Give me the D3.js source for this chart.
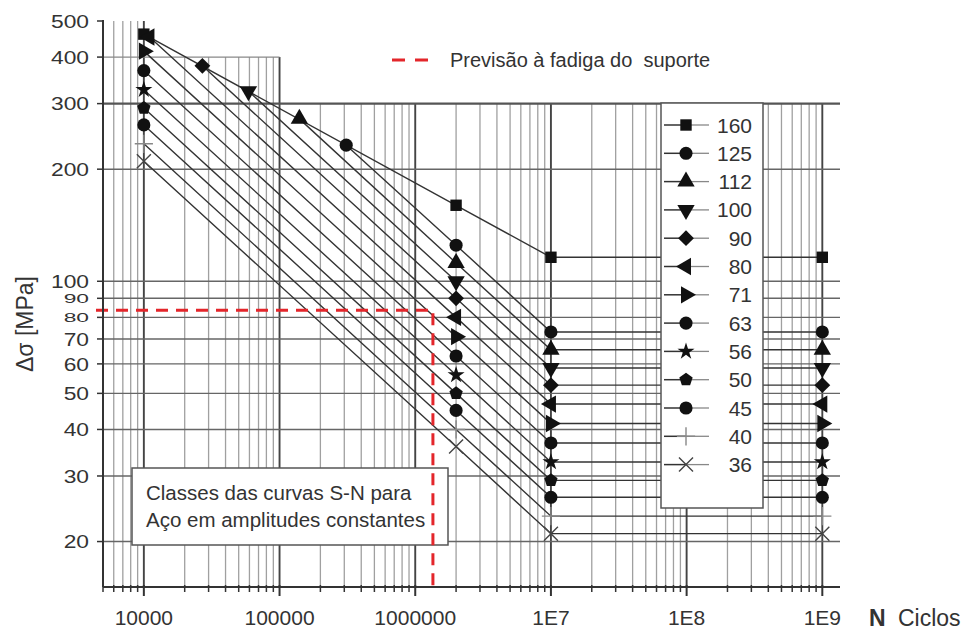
<!DOCTYPE html>
<html><head><meta charset="utf-8">
<script src="https://cdn.jsdelivr.net/npm/d3@7"></script>
<style>
body{margin:0;background:#fff}
svg{display:block}
text{font-family:"Liberation Sans",Arial,sans-serif;fill:#333}
</style>
</head><body>
<svg id="c" width="974" height="630"></svg>
<script>
// ---- data ----
const classLabels  = ["160","125","112","100","90","80","71","63","56","50","45","40","36"];
const classSymbols = ["square","circle","triUp","triDown","diamond","triLeft","triRight","circle","star","pentagon","circle","plus","times"];
const startCycles  = [1e4, 3.1e5, 1.4e5, 5.9e4, 2.7e4, 1.1e4, 1e4, 1e4, 1e4, 1e4, 1e4, 1e4, 1e4];
const startStress  = [461, 232, 273, 324, 379, 453, 415, 368, 327, 292, 263, 234, 210];
const stressAt2e6  = [160, 125, 112, 100, 90, 80, 71, 63, 56, 50, 45, 40, 36];
const stressAt1e7  = [116, 73.1, 65.5, 58.5, 52.6, 46.8, 41.5, 36.8, 32.7, 29.2, 26.3, 23.4, 21.0];
const kneeCycles   = [2e6, 1e7, 1e9];
const yTickValues  = [20, 30, 40, 50, 60, 70, 80, 90, 100, 200, 300, 400, 500];
const yGridValues  = [20, 30, 40, 50, 60, 70, 80, 90, 100, 200, 300];
const xLabelValues = [1e4, 1e5, 1e6, 1e7, 1e8, 1e9];
const xLabelTexts  = ["10000", "100000", "1000000", "1E7", "1E8", "1E9"];
const predCycles = 1.35e6, predStress = 83.6;
const predLabel = "Previsão à fadiga do  suporte";
const noteLines = ["Classes das curvas S-N para", "Aço em amplitudes constantes"];

// ---- scales ----
const svg = d3.select("#c");
const x = d3.scaleLog().domain([5000, 1.35e9]).range([103, 840]);
const y = d3.scaleLog().domain([15.1, 500]).range([587, 21]);
const X0 = x.range()[0], X1 = x.range()[1], Y0 = y.range()[0];

// ---- grid ----
const g = svg.append("g");
const xGrid = x.ticks();
const isDecade = v => Math.abs(Math.log10(v) - Math.round(Math.log10(v))) < 1e-9;
xGrid.forEach(v => {
  let top = y(300);
  if (v <= 1e4 + 1) top = y(500);
  else if (v <= 1e5 + 1) top = y(400);
  g.append("line").attr("x1", x(v)).attr("x2", x(v)).attr("y1", top).attr("y2", Y0)
    .attr("stroke", isDecade(v) ? "#444" : "#a0a0a0")
    .attr("stroke-width", isDecade(v) ? 1.9 : 1.3);
});
yGridValues.forEach(v => {
  g.append("line").attr("x1", X0).attr("x2", X1).attr("y1", y(v)).attr("y2", y(v))
    .attr("stroke", v === 300 ? "#555" : "#666").attr("stroke-width", v === 300 ? 2.2 : 1.4);
});
g.append("line").attr("x1", X0).attr("x2", x(1e5)).attr("y1", y(400)).attr("y2", y(400))
  .attr("stroke", "#888").attr("stroke-width", 1.2);

// ---- symbols ----
function pentagon(r) {
  const pts = d3.range(5).map(k => {
    const a = -Math.PI / 2 + k * 2 * Math.PI / 5;
    return [r * Math.cos(a), r * Math.sin(a)];
  });
  return "M" + pts.map(p => p.join(",")).join("L") + "Z";
}
function drawSymbol(sel, name, cx, cy) {
  const t = `translate(${cx},${cy})`;
  let p;
  switch (name) {
    case "square": p = sel.append("path").attr("d", d3.symbol(d3.symbolSquare, 130)()); break;
    case "circle": p = sel.append("path").attr("d", d3.symbol(d3.symbolCircle, 135)()); break;
    case "triUp": p = sel.append("path").attr("d", d3.symbol(d3.symbolTriangle, 130)()); break;
    case "triDown": p = sel.append("path").attr("d", d3.symbol(d3.symbolTriangle, 130)()).attr("data-r", 180); break;
    case "triLeft": p = sel.append("path").attr("d", d3.symbol(d3.symbolTriangle, 130)()).attr("data-r", -90); break;
    case "triRight": p = sel.append("path").attr("d", d3.symbol(d3.symbolTriangle, 130)()).attr("data-r", 90); break;
    case "diamond": p = sel.append("path").attr("d", d3.symbol(d3.symbolSquare, 125)()).attr("data-r", 45); break;
    case "star": p = sel.append("path").attr("d", d3.symbol(d3.symbolStar, 90)()); break;
    case "pentagon": p = sel.append("path").attr("d", pentagon(7)); break;
    case "plus": p = sel.append("path").attr("d", d3.symbol(d3.symbolPlus, 110)()); break;
    case "times": p = sel.append("path").attr("d", d3.symbol(d3.symbolTimes, 130)()); break;
  }
  const r = p.attr("data-r");
  p.attr("transform", t + (r ? ` rotate(${r})` : ""));
  if (name === "plus" || name === "times") {
    p.attr("fill", "none").attr("stroke", name === "plus" ? "#888" : "#444").attr("stroke-width", 1.4);
  } else {
    p.attr("fill", "#111");
  }
}

// ---- class curves ----
const line = d3.line().x(d => x(d[0])).y(d => y(d[1]));
const curves = classLabels.map((c, i) => [
  [startCycles[i], startStress[i]],
  [kneeCycles[0], stressAt2e6[i]],
  [kneeCycles[1], stressAt1e7[i]],
  [kneeCycles[2], stressAt1e7[i]]
]);
const cg = svg.append("g");
curves.forEach(pts => {
  cg.append("path").attr("d", line(pts)).attr("fill", "none")
    .attr("stroke", "#333").attr("stroke-width", 1.4);
});
const mg = svg.append("g");
curves.forEach((pts, i) => {
  pts.forEach(p => drawSymbol(mg, classSymbols[i], x(p[0]), y(p[1])));
});

// ---- annotation box ----
svg.append("rect").attr("x", 132).attr("y", 468).attr("width", 316).attr("height", 77)
  .attr("fill", "#fff").attr("stroke", "#555").attr("stroke-width", 1.5);
noteLines.forEach((t, i) => {
  svg.append("text").attr("x", 146).attr("y", 500 + i * 27).attr("font-size", 20.5).text(t);
});

// ---- legend box ----
const lg = svg.append("g");
lg.append("rect").attr("x", 661).attr("y", 103).attr("width", 102).attr("height", 405)
  .attr("fill", "#fff").attr("stroke", "#555").attr("stroke-width", 1.5);
classLabels.forEach((c, i) => {
  const ly = 125 + i * 28.3;
  lg.append("line").attr("x1", 664).attr("x2", 686).attr("y1", ly).attr("y2", ly)
    .attr("stroke", "#333").attr("stroke-width", 1.5);
  lg.append("line").attr("x1", 686).attr("x2", 709).attr("y1", ly).attr("y2", ly)
    .attr("stroke", "#888").attr("stroke-width", 1.3);
  drawSymbol(lg, classSymbols[i], 686, ly);
  lg.append("text").attr("x", 752).attr("y", ly).attr("dy", "0.36em")
    .attr("text-anchor", "end").attr("font-size", 21).text(c);
});

// ---- prediction dashed line ----
svg.append("path")
  .attr("d", `M96,${y(predStress)}H${x(predCycles)}V${Y0}`)
  .attr("fill", "none").attr("stroke", "#e3262b").attr("stroke-width", 3)
  .attr("stroke-dasharray", "12,8");
svg.append("line").attr("x1", 392).attr("x2", 428).attr("y1", 60).attr("y2", 60)
  .attr("stroke", "#e3262b").attr("stroke-width", 3).attr("stroke-dasharray", "13,10");
svg.append("text").attr("x", 450).attr("y", 67).attr("font-size", 20)
  .style("white-space", "pre").text(predLabel);

// ---- axes ----
const ax = svg.append("g");
ax.append("line").attr("x1", X0).attr("x2", X1).attr("y1", Y0).attr("y2", Y0)
  .attr("stroke", "#333").attr("stroke-width", 2);
ax.append("line").attr("x1", X0).attr("x2", X0).attr("y1", y(500) - 1).attr("y2", Y0)
  .attr("stroke", "#333").attr("stroke-width", 2);
xGrid.forEach(v => {
  ax.append("line").attr("x1", x(v)).attr("x2", x(v)).attr("y1", Y0 - 2)
    .attr("y2", Y0 + (isDecade(v) ? 9 : 5)).attr("stroke", "#333").attr("stroke-width", isDecade(v) ? 2 : 1.5);
});
xLabelValues.forEach((v, i) => {
  ax.append("text").attr("x", x(v)).attr("y", 625).attr("text-anchor", "middle")
    .attr("font-size", 21).text(xLabelTexts[i]);
});
yTickValues.forEach(v => {
  ax.append("line").attr("x1", X0 - 6).attr("x2", X0).attr("y1", y(v)).attr("y2", y(v))
    .attr("stroke", "#333").attr("stroke-width", 1.5);
  const squish = (v === 90 || v === 80) ? 0.7 : 1;
  ax.append("text").attr("transform", `translate(89,${y(v)}) scale(1.2,${squish})`)
    .attr("dy", "0.36em").attr("text-anchor", "end").attr("font-size", 19).text(v);
});
ax.append("text").attr("transform", "translate(33,324) rotate(-90)")
  .attr("text-anchor", "middle").attr("font-size", 23).text("Δσ [MPa]");
ax.append("text").attr("x", 869).attr("y", 626).attr("font-size", 23)
  .attr("font-weight", "bold").text("N");
ax.append("text").attr("x", 898).attr("y", 626).attr("font-size", 23).text("Ciclos");
</script>
</body></html>
